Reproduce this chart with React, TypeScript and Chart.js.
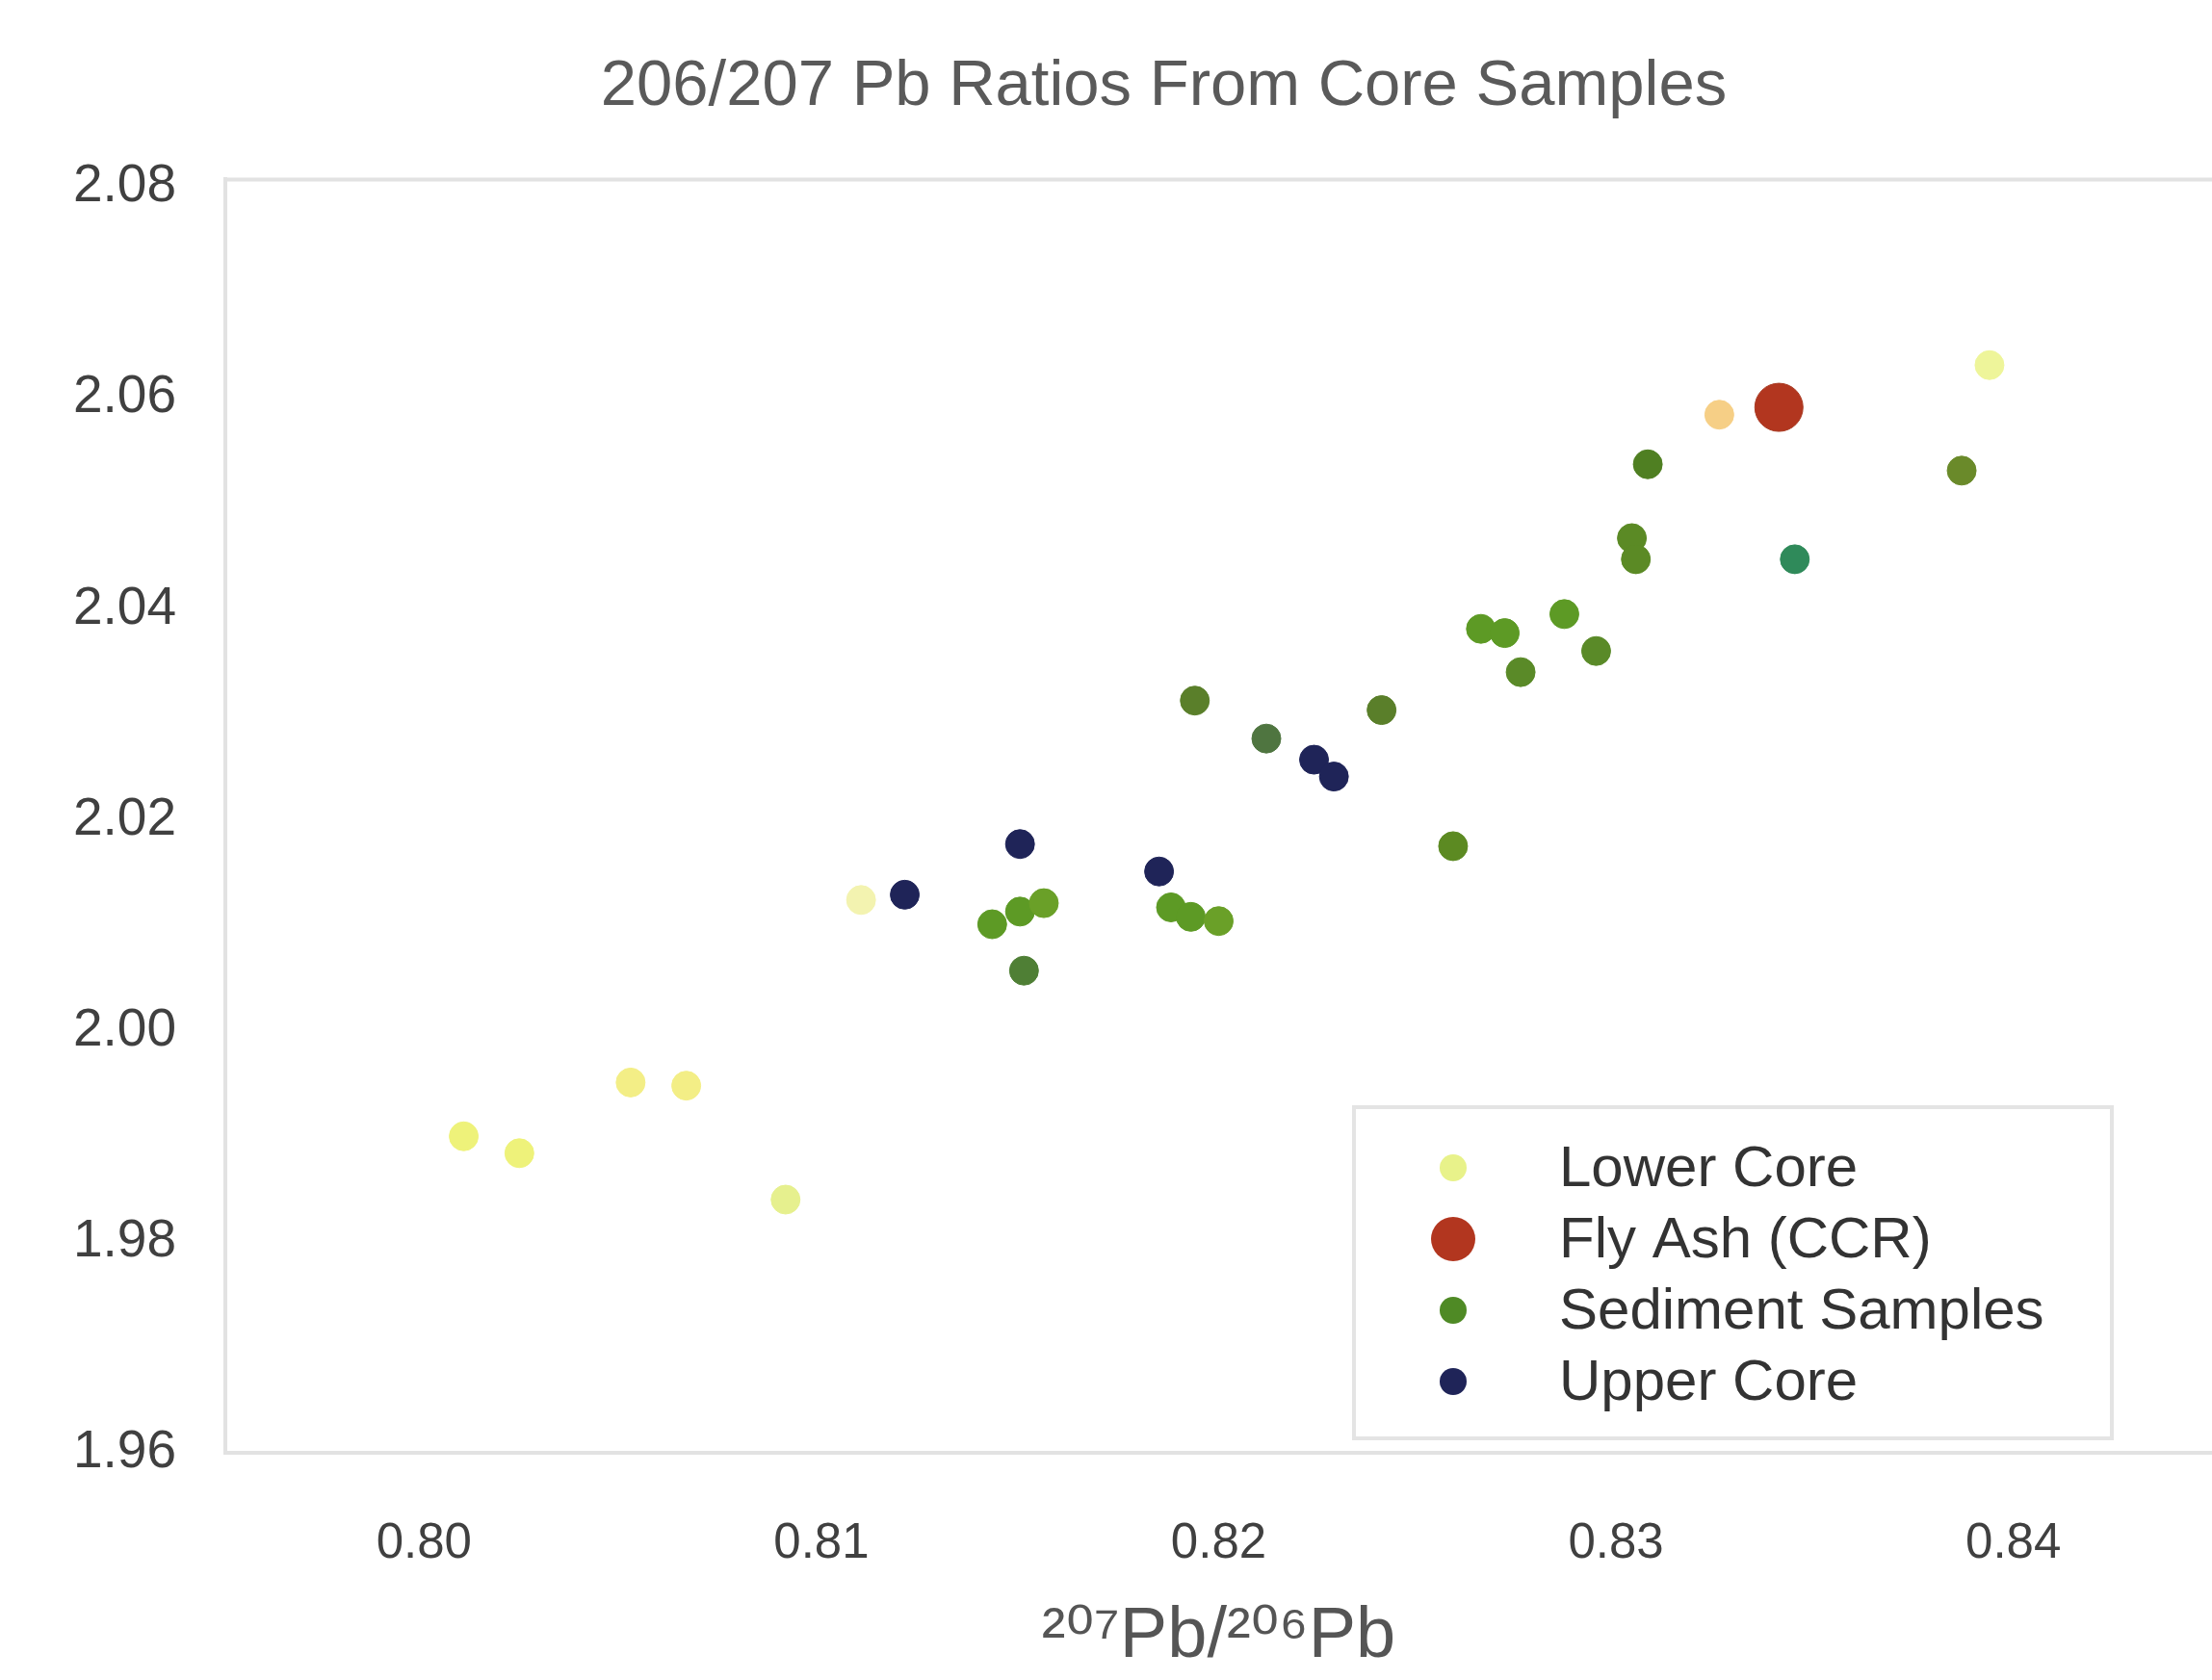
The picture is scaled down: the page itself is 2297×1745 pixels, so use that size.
import React, { useEffect, useRef } from "react";
import { Chart, registerables } from "chart.js";

Chart.register(...registerables);

// ---- Data ----
const lowerCoreX = [0.8010, 0.8024, 0.8052, 0.8066, 0.8091, 0.8110, 0.8326, 0.8394];
const lowerCoreY = [1.9900, 1.9884, 1.9951, 1.9948, 1.9840, 2.0124, 2.0584, 2.0631];
const lowerCoreColors = ["#eef27a", "#eef27a", "#f3ee86", "#f3ee86", "#e6f08e", "#f3f3b0", "#f6cf86", "#eef59a"];

const flyAshX = [0.8341];
const flyAshY = [2.0591];

const sedimentX = [0.8308, 0.8304, 0.8305, 0.8387, 0.8345, 0.8266, 0.8272, 0.8276, 0.8287, 0.8295,
  0.8194, 0.8212, 0.8241, 0.8259, 0.8143, 0.8150, 0.8156, 0.8151, 0.8188, 0.8193, 0.8200];
const sedimentY = [2.0537, 2.0467, 2.0447, 2.0531, 2.0447, 2.0381, 2.0377, 2.0340, 2.0395, 2.0360,
  2.0313, 2.0277, 2.0304, 2.0175, 2.0101, 2.0113, 2.0121, 2.0057, 2.0117, 2.0108, 2.0104];
const sedimentColors = ["#4f7f22", "#5b8a25", "#5b8a25", "#6a8a2a", "#2f8a5a", "#5d9a25", "#5d9a25", "#5a8a28",
  "#5d9a25", "#5a8a28", "#5a7f2a", "#4f7540", "#5a7f2a", "#5c8a22", "#5d9a25", "#5d9a25", "#6aa028",
  "#4f7f35", "#5d9a25", "#5d9a25", "#6aa028"];

const upperCoreX = [0.8121, 0.8150, 0.8185, 0.8224, 0.8229];
const upperCoreY = [2.0129, 2.0177, 2.0151, 2.0257, 2.0241];

const seriesLabels = ["Lower Core", "Fly Ash (CCR)", "Sediment Samples", "Upper Core"];
const xTicks = [0.80, 0.81, 0.82, 0.83, 0.84];
const yTicks = [1.96, 1.98, 2.00, 2.02, 2.04, 2.06, 2.08];

const titleText = "206/207 Pb Ratios From Core Samples";
const xTitleText = "\u00B2\u2070\u2077Pb/\u00B2\u2070\u2076Pb";

const FONT = "'Liberation Sans', Arial, 'DejaVu Sans', sans-serif";

const toPoints = (xs: number[], ys: number[]) => xs.map((x, i) => ({ x, y: ys[i] }));

const frameColor = "#e2e2e2";

const framePlugin = {
  id: "frame",
  beforeDatasetsDraw(chart: any) {
    const { ctx, chartArea } = chart;
    ctx.save();
    ctx.strokeStyle = frameColor;
    ctx.lineWidth = 4;
    ctx.beginPath();
    ctx.moveTo(chartArea.left, chartArea.top);
    ctx.lineTo(chartArea.right, chartArea.top);
    ctx.stroke();
    ctx.restore();
  },
};

const legendPlugin = {
  id: "boxLegend",
  afterDraw(chart: any) {
    const { ctx, chartArea } = chart;
    const bw = 787;
    const bh = 344;
    const bx = chartArea.right - 104 - bw;
    const by = chartArea.bottom - 15 - bh;
    ctx.save();
    ctx.fillStyle = "#ffffff";
    ctx.fillRect(bx, by, bw, bh);
    ctx.strokeStyle = "#e4e4e4";
    ctx.lineWidth = 4;
    ctx.strokeRect(bx, by, bw, bh);
    const rowH = 74;
    const firstRow = by + 63;
    chart.data.datasets.forEach((ds: any, i: number) => {
      const cy = firstRow + i * rowH;
      const cx = bx + 103;
      const r = ds.legendRadius;
      ctx.beginPath();
      ctx.arc(cx, cy, r, 0, Math.PI * 2);
      ctx.fillStyle = ds.legendColor;
      ctx.fill();
      ctx.fillStyle = "#333333";
      ctx.font = `60px ${FONT}`;
      ctx.textBaseline = "middle";
      ctx.textAlign = "left";
      ctx.fillText(ds.label, bx + 213, cy + 2);
    });
    ctx.restore();
  },
};

export default function App() {
  const canvasRef = useRef<HTMLCanvasElement | null>(null);

  useEffect(() => {
    document.body.style.margin = "0";
    document.documentElement.style.overflow = "hidden";
    document.body.style.overflow = "hidden";
    const canvas = canvasRef.current;
    if (!canvas) return;
    const chart = new Chart(canvas, {
      type: "scatter",
      data: {
        datasets: [
          {
            label: seriesLabels[0],
            data: toPoints(lowerCoreX, lowerCoreY),
            backgroundColor: lowerCoreColors,
            borderColor: lowerCoreColors,
            borderWidth: 1,
            pointRadius: 15,
            legendColor: "#e8f28a",
            legendRadius: 14,
          } as any,
          {
            label: seriesLabels[1],
            data: toPoints(flyAshX, flyAshY),
            backgroundColor: "#b2361f",
            borderColor: "#a83a22",
            borderWidth: 1,
            pointRadius: 25,
            legendColor: "#b2361f",
            legendRadius: 23,
          } as any,
          {
            label: seriesLabels[2],
            data: toPoints(sedimentX, sedimentY),
            backgroundColor: sedimentColors,
            borderColor: sedimentColors,
            borderWidth: 1,
            pointRadius: 15,
            legendColor: "#4f8a25",
            legendRadius: 14,
          } as any,
          {
            label: seriesLabels[3],
            data: toPoints(upperCoreX, upperCoreY),
            backgroundColor: "#1f2458",
            borderColor: "#1f2458",
            borderWidth: 1,
            pointRadius: 15,
            legendColor: "#1f2458",
            legendRadius: 14,
          } as any,
        ],
      },
      options: {
        animation: false,
        responsive: true,
        maintainAspectRatio: false,
        layout: { autoPadding: false, padding: { left: 120, right: 0, top: 0, bottom: 0 } },
        plugins: {
          legend: { display: false },
          tooltip: { enabled: false },
          title: {
            display: true,
            text: titleText,
            color: "#5a5a5a",
            font: { family: FONT, size: 67, weight: "normal" },
            padding: { top: 50, bottom: 56 },
          },
        },
        scales: {
          x: {
            type: "linear",
            min: 0.795,
            max: 0.845,
            afterFit: (scale: any) => {
              scale.height = 236;
              scale.paddingLeft = 0;
              scale.paddingRight = 0;
            },
            afterBuildTicks: (scale: any) => {
              scale.ticks = xTicks.map((v) => ({ value: v }));
            },
            ticks: {
              includeBounds: false,
              padding: 64,
              color: "#404040",
              font: { family: FONT, size: 51 },
              callback: (v: any) => Number(v).toFixed(2),
            },
            grid: { display: true, drawOnChartArea: false, drawTicks: false },
            border: { display: true, color: frameColor, width: 4 },
            title: {
              display: true,
              text: xTitleText,
              color: "#555555",
              font: { family: FONT, size: 74 },
              padding: { top: 0, bottom: 0 },
            },
          },
          y: {
            type: "linear",
            min: 1.96,
            max: 2.0807,
            afterFit: (scale: any) => {
              scale.width = 114;
              scale.paddingTop = 0;
              scale.paddingBottom = 0;
              scale._computeLabelArea = () => undefined;
            },
            afterBuildTicks: (scale: any) => {
              scale.ticks = yTicks.map((v) => ({ value: v }));
            },
            ticks: {
              includeBounds: false,
              padding: 51,
              color: "#404040",
              font: { family: FONT, size: 55 },
              callback: (v: any) => Number(v).toFixed(2),
            },
            grid: { display: true, drawOnChartArea: false, drawTicks: false },
            border: { display: true, color: frameColor, width: 4 },
          },
        },
      },
      plugins: [framePlugin, legendPlugin],
    });
    return () => chart.destroy();
  }, []);

  return (
    <div style={{ width: "2297px", height: "1745px", position: "relative", overflow: "hidden" }}>
      <canvas ref={canvasRef} style={{ display: "block" }} />
    </div>
  );
}
